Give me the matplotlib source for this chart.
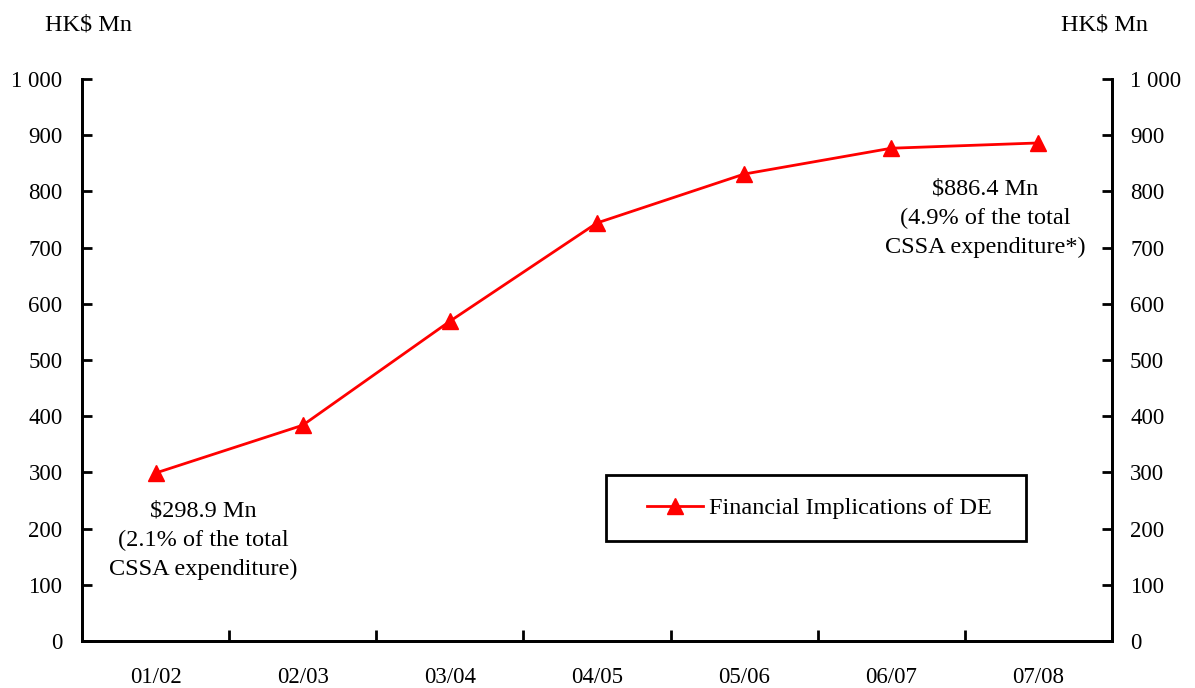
import matplotlib.pyplot as plt
from matplotlib.patches import Rectangle

# financial implications of DE, HK$ million, by financial year
years = ["01/02", "02/03", "03/04", "04/05", "05/06", "06/07", "07/08"]
amounts = [298.9, 384, 569, 744, 831, 877, 886.4]
first_share = 2.1   # % of total CSSA expenditure
last_share = 4.9
yticks = [0, 100, 200, 300, 400, 500, 600, 700, 800, 900, 1000]
ytick_labels = ["0", "100", "200", "300", "400", "500", "600", "700", "800", "900", "1 000"]

plt.rcParams['font.family'] = ['Liberation Serif', 'DejaVu Serif']
plt.rcParams['font.size'] = 17.5
tick_fs = 16.5

fig = plt.figure(figsize=(11.95, 6.88), dpi=100)
ax = fig.add_axes([0.0686, 0.0683, 0.8619, 0.8167])
x = list(range(len(years)))

ax.plot(x, amounts, color='red', lw=2, marker='^', ms=12,
        label="Financial Implications of DE")

ax.set_xlim(-0.5, len(years) - 0.5)
ax.set_ylim(0, 1000)

# boundaries as major ticks, year labels on minor ticks
ax.set_xticks([i - 0.5 for i in range(len(years) + 1)])
ax.set_xticklabels([])
ax.set_xticks(x, minor=True)
ax.set_xticklabels(years, minor=True, fontsize=tick_fs)
ax.tick_params(axis='x', which='major', direction='in', length=8, width=2)
ax.tick_params(axis='x', which='minor', length=0, pad=19)

ax.set_yticks(yticks)
ax.set_yticklabels(ytick_labels, fontsize=tick_fs)
ax.tick_params(axis='y', direction='in', length=7, width=2, pad=14)

ax2 = ax.twinx()
ax2.set_ylim(0, 1000)
ax2.set_yticks(yticks)
ax2.set_yticklabels(ytick_labels, fontsize=tick_fs)
ax2.tick_params(axis='y', direction='in', length=7, width=2, pad=13)

for a in (ax, ax2):
    a.spines['top'].set_visible(False)
    for s in ('left', 'right', 'bottom'):
        a.spines[s].set_linewidth(2)

fig.text(0.074, 0.963, "HK\\$ Mn", ha='center', va='center')
fig.text(0.924, 0.963, "HK\\$ Mn", ha='center', va='center')

ax.text(0.1175, 0.250,
        "\\$%.1f Mn\n(%.1f%% of the total\nCSSA expenditure)" % (amounts[0], first_share),
        transform=ax.transAxes, ha='center', va='top', linespacing=1.5)
ax.text(0.8767, 0.823,
        "\\$%.1f Mn\n(%.1f%% of the total\nCSSA expenditure*)" % (amounts[-1], last_share),
        transform=ax.transAxes, ha='center', va='top', linespacing=1.5)

# legend box
ax.add_patch(Rectangle((0.5087, 0.178), 0.408, 0.117, transform=ax.transAxes,
                       fill=False, ec='black', lw=2, zorder=3))
ax.legend(loc='center left', bbox_to_anchor=(0.549, 0.2367), frameon=False,
          borderpad=0, borderaxespad=0, handlelength=2.3, handletextpad=0.25)

fig.savefig("out.png", dpi=100)
